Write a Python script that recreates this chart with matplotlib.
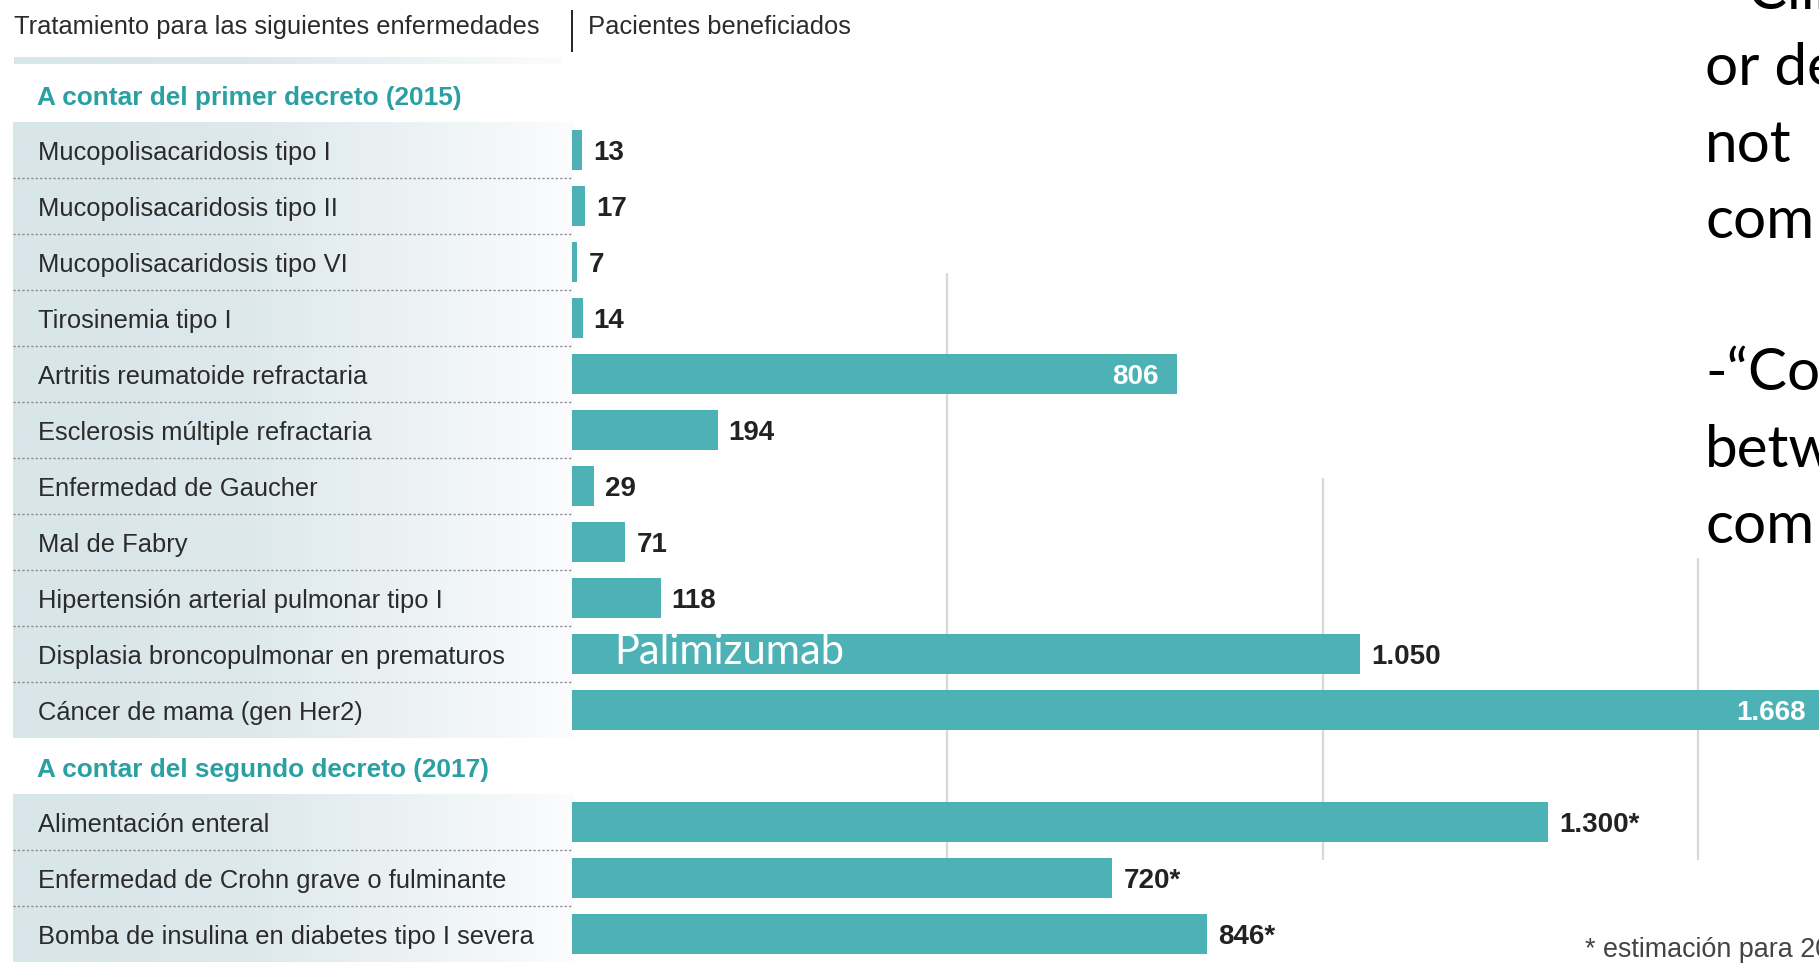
import matplotlib

matplotlib.use("Agg")
import matplotlib.pyplot as plt
import numpy as np
from matplotlib import font_manager
from matplotlib.colors import LinearSegmentedColormap

# --- data ---------------------------------------------------------------
header_left = "Tratamiento para las siguientes enfermedades"
header_right = "Pacientes beneficiados"
group_titles = ["A contar del primer decreto (2015)", "A contar del segundo decreto (2017)"]

group1_labels = [
    "Mucopolisacaridosis tipo I",
    "Mucopolisacaridosis tipo II",
    "Mucopolisacaridosis tipo VI",
    "Tirosinemia tipo I",
    "Artritis reumatoide refractaria",
    "Esclerosis múltiple refractaria",
    "Enfermedad de Gaucher",
    "Mal de Fabry",
    "Hipertensión arterial pulmonar tipo I",
    "Displasia broncopulmonar en prematuros",
    "Cáncer de mama (gen Her2)",
]
group1_values = [13, 17, 7, 14, 806, 194, 29, 71, 118, 1050, 1668]

group2_labels = [
    "Alimentación enteral",
    "Enfermedad de Crohn grave o fulminante",
    "Bomba de insulina en diabetes tipo I severa",
]
group2_values = [1300, 720, 846]  # estimates

inside_value_labels = [806, 1668]
note_row = "Displasia broncopulmonar en prematuros"
note_text = "Palimizumab"
footnote = "* estimación para 2017"
slide_lines = ["-“Clin", "or de", "not", "com", "", "-“Co", "betw", "com"]
grid_values = [500, 1000, 1500]

# --- style / layout -----------------------------------------------------
W, H, DPI = 1819, 963, 100
X0 = 572            # pixel where the bars start
PX_PER_UNIT = 0.7506
ROW0, ROW_STEP = 94, 56
BAR_H = 40
TEAL = "#4db2b5"
TITLE_TEAL = "#2aa0a3"
TEXT = "#2b2b2b"

names = {f.name for f in font_manager.fontManager.ttflist}
if "Liberation Sans Narrow" in names:
    NARROW, SCALE = "Liberation Sans Narrow", 1.22
else:
    NARROW, SCALE = "Liberation Sans", 1.0
FS = 18.4 * SCALE
FS_VAL = 20 * SCALE
SLIDE_FONT = "Lato" if "Lato" in names else "DejaVu Sans"


def row_y(k):
    return ROW0 + ROW_STEP * k


fig = plt.figure(figsize=(W / DPI, H / DPI), dpi=DPI)
fig.patch.set_facecolor("white")

bg = fig.add_axes([0, 0, 1, 1])
bg.set_xlim(0, W)
bg.set_ylim(H, 0)
bg.axis("off")

ax = fig.add_axes([X0 / W, 0, 1 - X0 / W, 1])
ax.set_xlim(0, (W - X0) / PX_PER_UNIT)
ax.set_ylim(H, 0)
ax.axis("off")
ax.patch.set_alpha(0)

panel_cmap = LinearSegmentedColormap.from_list(
    "panel", ["#d8e5e9", "#dee9ec", "#edf3f5", "#fbfcfd"]
)
grad = np.linspace(0, 1, 256)[None, :] ** 1.3

# header
bg.text(14, 34, header_left, family=NARROW, fontsize=FS, color=TEXT, va="baseline")
bg.vlines(X0, 10, 52, color="#222222", lw=1.4)
bg.text(588, 34, header_right, family=NARROW, fontsize=FS, color=TEXT, va="baseline")
bg.imshow(grad, extent=[14, 560, 64, 57], aspect="auto", cmap=panel_cmap, zorder=0)

# groups
groups = [(group1_labels, group1_values, False), (group2_labels, group2_values, True)]
k = 0
for gi, (labels, values, estimated) in enumerate(groups):
    bg.text(37, row_y(k) + 11, group_titles[gi], family=NARROW, fontsize=FS * 1.03,
            fontweight="bold", color=TITLE_TEAL, va="baseline")
    k += 1
    ys = [row_y(k + i) for i in range(len(labels))]
    top, bottom = ys[0] - ROW_STEP / 2, min(ys[-1] + ROW_STEP / 2, H)
    bg.imshow(grad, extent=[13, X0, bottom, top], aspect="auto", cmap=panel_cmap, zorder=0)
    mids = [(a + b) / 2 for a, b in zip(ys[:-1], ys[1:])]
    bg.hlines(mids, 13, X0, colors="#8c8c8c", linestyles=(0, (1.6, 1.6)), lw=1, zorder=1)

    for lab, y in zip(labels, ys):
        bg.text(38, y + 10, lab, family=NARROW, fontsize=FS, color=TEXT, va="baseline")

    ax.barh(ys, values, height=BAR_H, color=TEAL, zorder=2)
    for v, y, lab in zip(values, ys, labels):
        txt = f"{v:,}".replace(",", ".") + ("*" if estimated else "")
        if v in inside_value_labels:
            ax.annotate(txt, xy=(v, y), xytext=(-18, -10), textcoords="offset pixels",
                        ha="right", va="baseline", family=NARROW, fontsize=FS_VAL,
                        fontweight="bold", color="white", zorder=3, annotation_clip=False)
        else:
            ax.annotate(txt, xy=(v, y), xytext=(11, -10), textcoords="offset pixels",
                        ha="left", va="baseline", family=NARROW, fontsize=FS_VAL,
                        fontweight="bold", color="#222222", zorder=3)
        if lab == note_row:
            ax.annotate(note_text, xy=(0, y), xytext=(42, -10), textcoords="offset pixels",
                        ha="left", va="baseline", family=SLIDE_FONT, fontsize=30,
                        color="white", zorder=3)
    k += len(labels)

# grid lines (faded at the top in the original)
for v, start in zip(grid_values, [273, 478, 558]):
    ax.vlines(v, start, 860, color="#d9d9d9", lw=1.6, zorder=1)

# footnote
bg.text(1585, 957, footnote, family=NARROW, fontsize=FS * 1.05, color="#444444",
        va="baseline")

# slide text on the right, clipped by the page edge
for i, line in enumerate(slide_lines):
    if line:
        bg.text(1705, 9 + 76.3 * i, line, family=SLIDE_FONT, fontsize=42,
                color="black", va="baseline")

fig.savefig("out.png", dpi=DPI)
